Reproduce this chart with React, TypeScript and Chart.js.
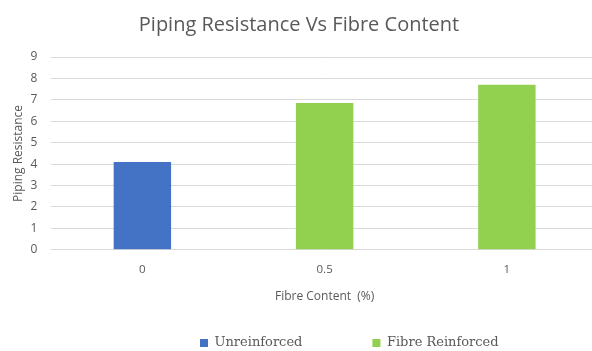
import React, { useEffect, useRef } from "react";
import { Chart, registerables } from "chart.js";

Chart.register(...registerables);

const categories = ["0", "0.5", "1"];
const unreinforced = [4.1, null, null];
const fibreReinforced = [null, 6.85, 7.7];
const yTicks = [0, 1, 2, 3, 4, 5, 6, 7, 8, 9];

const LEGEND_GAP = 70;
const LEGEND_START_X = 200;
const LEGEND_CENTER_Y = 343;
const LEGEND_FONT = 13;

const legendPlace = {
  id: "legendPlace",
  afterLayout(chart: any) {
    const l = chart.legend;
    if (!l) return;
    l.options.labels.padding = LEGEND_GAP;
    const w = l.right - l.left;
    l.left = LEGEND_START_X - LEGEND_GAP;
    l.right = l.left + w;
    l.top = LEGEND_CENTER_Y - LEGEND_FONT / 2 - LEGEND_GAP;
    l.bottom = chart.height;
  },
};

export default function App() {
  const ref = useRef<HTMLCanvasElement | null>(null);
  useEffect(() => {
    if (!ref.current) return;
    const grey = "#595959";
    const chart = new Chart(ref.current, {
      type: "bar",
      data: {
        labels: categories,
        datasets: [
          {
            label: "Unreinforced",
            data: unreinforced,
            backgroundColor: "#4472C4",
            grouped: false,
            categoryPercentage: 1,
            barPercentage: 0.315,
          },
          {
            label: "Fibre Reinforced",
            data: fibreReinforced,
            backgroundColor: "#92D050",
            grouped: false,
            categoryPercentage: 1,
            barPercentage: 0.315,
          },
        ],
      },
      plugins: [legendPlace],
      options: {
        animation: false,
        responsive: false,
        maintainAspectRatio: false,
        layout: { padding: { left: 0, right: 0, top: 0, bottom: 0 } },
        plugins: {
          title: {
            display: true,
            text: "Piping Resistance Vs Fibre Content",
            color: grey,
            font: { family: "'Open Sans'", size: 20, weight: "normal" },
            padding: { top: 13, bottom: 20 },
          },
          legend: {
            position: "bottom",
            align: "start",
            labels: {
              boxWidth: 8,
              boxHeight: 8,
              color: grey,
              padding: 10,
              font: { family: "'DejaVu Serif'", size: LEGEND_FONT },
            },
          },
          tooltip: { enabled: false },
        },
        scales: {
          x: {
            grid: { display: false, drawTicks: false },
            border: { display: false },
            ticks: { color: grey, font: { family: "'Open Sans'", size: 11.5 }, padding: 13 },
            title: {
              display: true,
              text: "Fibre Content  (%)",
              color: grey,
              font: { family: "'Open Sans'", size: 12 },
              padding: { top: 0, bottom: 14 },
            },
          },
          y: {
            min: 0,
            max: 9,
            afterBuildTicks: (axis: any) => {
              axis.ticks = yTicks.map((v) => ({ value: v }));
            },
            grid: { color: "#d9d9d9", drawTicks: false },
            border: { display: false },
            ticks: { color: grey, font: { family: "'Open Sans'", size: 12 }, padding: 14 },
            title: {
              display: true,
              text: "Piping Resistance",
              color: grey,
              font: { family: "'Open Sans'", size: 12 },
              padding: { top: 11, bottom: -9 },
            },
          },
        },
      },
    });
    return () => chart.destroy();
  }, []);
  return (
    <div
      style={{
        position: "fixed",
        left: 0,
        top: 0,
        width: 592,
        height: 351,
        overflow: "hidden",
        background: "#fff",
      }}
    >
      <canvas ref={ref} width={598} height={351} style={{ display: "block" }} />
    </div>
  );
}
